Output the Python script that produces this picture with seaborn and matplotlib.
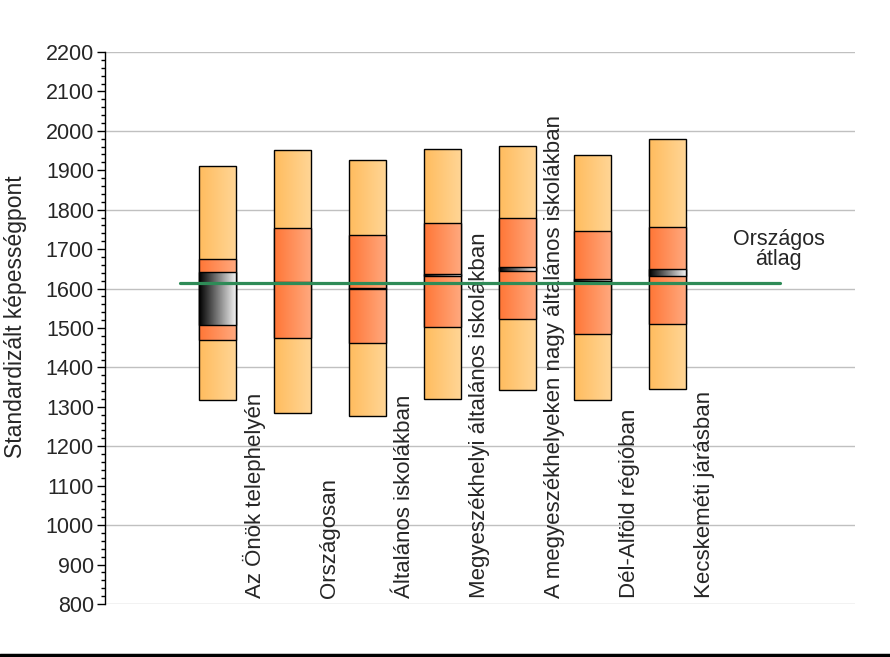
#!/usr/bin/env python3
"""
Standardized ability score ranges by comparison group (percentile bars with gradient fill).
"""
import numpy as np
import matplotlib
matplotlib.use("Agg")
import matplotlib.pyplot as plt
import seaborn as sns
from matplotlib.colors import LinearSegmentedColormap
from matplotlib.lines import Line2D
from matplotlib.ticker import MultipleLocator

# Data
categories = [
    "Az Önök telephelyén",
    "Országosan",
    "Általános iskolákban",
    "Megyeszékhelyi általános iskolákban",
    "A megyeszékhelyeken nagy általános iskolákban",
    "Dél-Alföld régióban",
    "Kecskeméti járásban",
]
p05 = [1317, 1284, 1276, 1319, 1343, 1317, 1344]
p25 = [1469, 1474, 1461, 1502, 1522, 1484, 1510]
p75 = [1674, 1753, 1735, 1765, 1778, 1746, 1755]
p95 = [1911, 1951, 1925, 1953, 1962, 1939, 1979]
ci_low = [1507, 1613.5, 1599, 1631, 1645, 1619, 1631]
ci_high = [1641, 1616.5, 1602, 1637, 1655, 1623, 1650]
national_avg = 1615

sns.set_style("white")
plt.rcParams['font.family'] = ['Liberation Sans', 'DejaVu Sans']

outer_cmap = LinearSegmentedColormap.from_list("outer", ["#FFBC5E", "#FFD697"])
inner_cmap = LinearSegmentedColormap.from_list("inner", ["#FF7636", "#FFAA80"])
ci_cmap = LinearSegmentedColormap.from_list("ci", ["#000000", "#F8F8F8"])
gradient = np.linspace(0, 1, 256).reshape(1, -1)


def gradient_bar(ax, x, bottom, top, cmap, width=0.5, z=2):
    """Bar filled with a left-to-right gradient."""
    bars = ax.bar(x, top - bottom, bottom=bottom, width=width, facecolor="none",
                  edgecolor="black", linewidth=1, zorder=z + 0.5)
    patch = bars.patches[0]
    im = ax.imshow(gradient, extent=[x - width / 2, x + width / 2, bottom, top],
                   aspect="auto", cmap=cmap, zorder=z, interpolation="bilinear")
    im.set_clip_path(patch)


fig = plt.figure(figsize=(8.9, 6.57), dpi=100)
ax = fig.add_axes([0.118, 0.0807, 0.843, 0.8402])

for i in range(len(categories)):
    gradient_bar(ax, i, p05[i], p95[i], outer_cmap, z=2)
    gradient_bar(ax, i, p25[i], p75[i], inner_cmap, z=3)
    gradient_bar(ax, i, ci_low[i], ci_high[i], ci_cmap, z=4)

# Gridlines every 200
for g in range(800, 2201, 200):
    ax.axhline(g, color="#C0C0C0", linewidth=1, zorder=0)

# National average line
sns.lineplot(x=[-0.5, 7.5], y=[national_avg, national_avg], color="#2E8B57",
             linewidth=2.3, ax=ax, zorder=6)
ax.text(7.48, 1699, "Országos\nátlag", ha="center", va="center", fontsize=15.5,
        linespacing=0.95)

# Category labels (rotated, between bars)
for i, name in enumerate(categories):
    ax.text(i + 0.49, 815, name, rotation=90, ha="center", va="bottom",
            fontsize=16)

ax.set_xlim(-1.5, 8.5)
ax.set_ylim(800, 2200)
ax.yaxis.set_major_locator(MultipleLocator(100))
ax.yaxis.set_minor_locator(MultipleLocator(20))
ax.tick_params(axis="y", which="major", length=6, width=1, labelsize=15.5,
               direction="out", left=True, color="black", pad=2)
ax.tick_params(axis="y", which="minor", length=3, width=1, left=True,
               direction="out", color="black")
ax.set_xticks([])
for side in ["top", "right", "bottom"]:
    ax.spines[side].set_visible(False)
ax.spines["left"].set_color("black")
ax.spines["left"].set_linewidth(1)
ax.set_ylabel("Standardizált képességpont", fontsize=16.5)
ax.yaxis.set_label_coords(-0.104, 0.52)

fig.add_artist(Line2D([0, 1], [0.003, 0.003], color="black", linewidth=2.5,
                      transform=fig.transFigure))

fig.savefig("out.png", dpi=100)
